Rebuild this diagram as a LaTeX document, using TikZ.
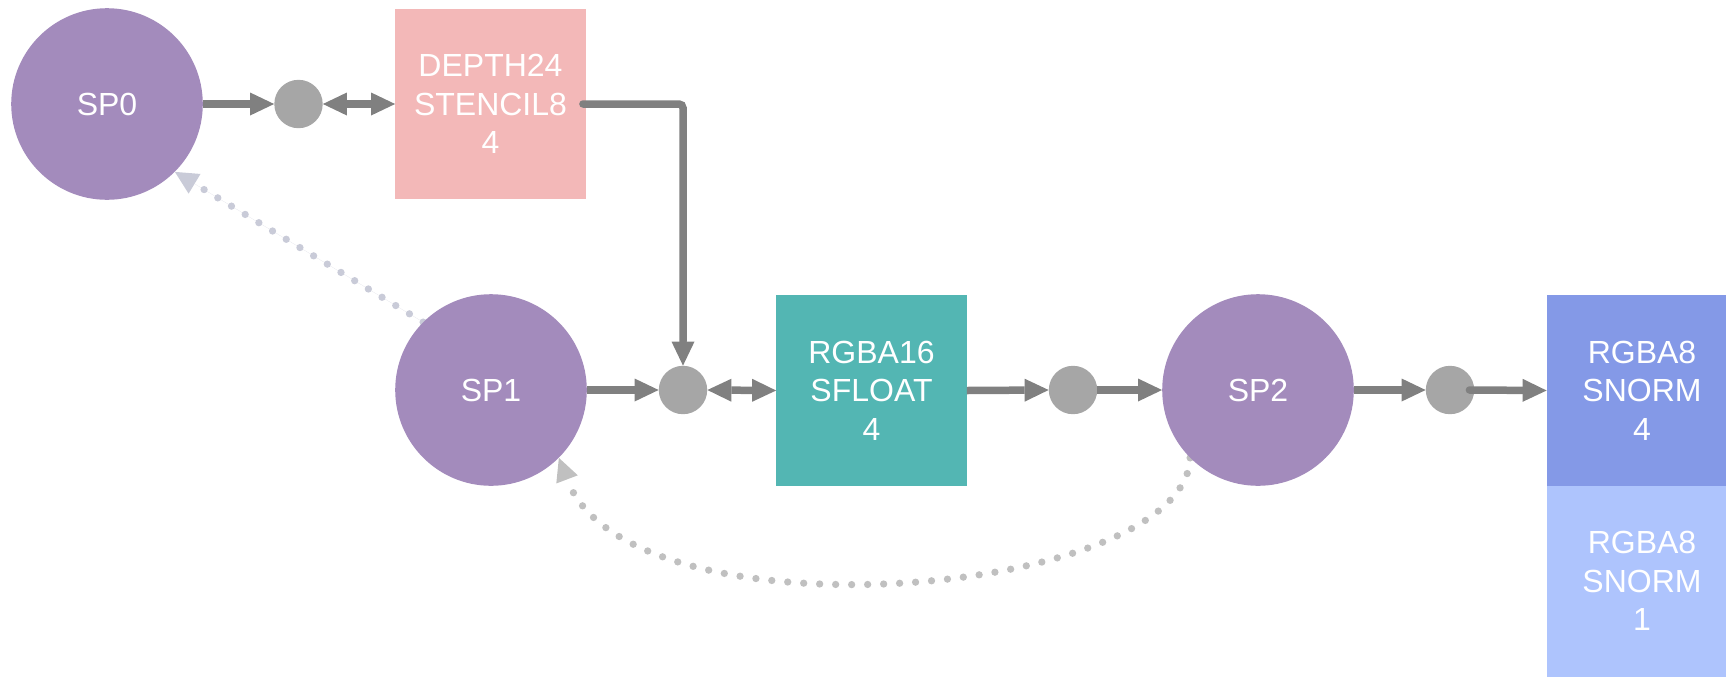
\documentclass[tikz,border=0pt]{standalone}
\usepackage{fontspec}
\setmainfont{Liberation Sans}
\usetikzlibrary{arrows.meta,backgrounds}

\definecolor{spfill}{HTML}{A38BBC}
\definecolor{junctionfill}{HTML}{A6A6A6}
\definecolor{flowgray}{HTML}{808080}
\definecolor{depthfill}{HTML}{F3B8B8}
\definecolor{floatfill}{HTML}{53B6B3}
\definecolor{snormfill}{HTML}{8499E7}
\definecolor{snormlight}{HTML}{AEC4FD}
\definecolor{depgrayblue}{HTML}{C9CBD8}
\definecolor{depgray}{HTML}{C0C0C0}

\tikzset{
  labelfont/.style={text=white, font=\fontsize{32}{38.5}\selectfont},
  subpass/.style={circle, fill=spfill, minimum size=191.6pt, inner sep=0pt, labelfont},
  junction/.style={circle, fill=junctionfill, minimum size=48.4pt, inner sep=0pt},
  attachment/.style={rectangle, minimum width=190.4pt, minimum height=190.4pt,
    inner sep=0pt, align=center, labelfont},
  flow/.style={draw=flowgray, line width=7.5pt, -{Triangle[length=24pt, width=23pt, line width=0pt]}},
  biflow/.style={draw=flowgray, line width=7.5pt,
    {Triangle[length=24pt, width=23pt, line width=0pt]}-{Triangle[length=24pt, width=23pt, line width=0pt]}},
  dependency/.style={line width=7.3pt, line cap=round, dash pattern=on 0pt off 16pt,
    -{Triangle[length=23pt, width=23pt, line width=0pt]}},
}

\begin{document}
\begin{tikzpicture}[x=1pt, y=-1pt]
  \useasboundingbox (0,0) rectangle (1726,678);
  \clip (0,0) rectangle (1726,678);

  % subpasses
  \node[subpass] (sp0) at (107,104) {SP0};
  \node[subpass] (sp1) at (491,390) {SP1};
  \node[subpass] (sp2) at (1258,390) {SP2};

  % junction points
  \node[junction] (j0) at (298.5,104) {};
  \node[junction] (j1) at (683,390) {};
  \node[junction] (j2) at (1073,390) {};
  \node[junction] (j3) at (1450,390) {};

  % attachments
  \node[attachment, fill=depthfill] (depth) at (490.5,104) {DEPTH24\\STENCIL8\\4};
  \node[attachment, fill=floatfill] (rgba16) at (871.5,390.5) {RGBA16\\SFLOAT\\4};
  \node[attachment, fill=snormfill] (rgba8a) at (1642,390.5) {RGBA8\\SNORM\\4};
  \node[attachment, fill=snormlight, anchor=north] (rgba8b) at (rgba8a.south) {RGBA8\\SNORM\\1};

  % data flow
  \draw[flow] (sp0.east) -- (j0.west);
  \draw[biflow] (j0.east) -- (depth.west);
  \draw[flow, line cap=round, rounded corners=4pt] ([xshift=-3pt]depth.east) -| (j1.north);
  \draw[flow] (sp1.east) -- (j1.west);
  \draw[biflow] (j1.east) -- (rgba16.west);
  \draw[flow] (rgba16.east) -- (j2.west);
  \draw[flow] (j2.east) -- (sp2.west);
  \draw[flow] (sp2.east) -- (j3.west);
  \draw[flow, line cap=round] ([xshift=-5pt]j3.east) -- (rgba8a.west);

  % subpass dependencies
  \begin{scope}[on background layer]
    \draw[dependency, draw=depgrayblue, fill=depgrayblue]
      (sp1.north west) -- (sp0.south east);
    \draw[dependency, draw=depgray]
      (sp2.south west) .. controls +(-5,140) and +(71,187) .. (sp1.south east);
  \end{scope}
\end{tikzpicture}
\end{document}
